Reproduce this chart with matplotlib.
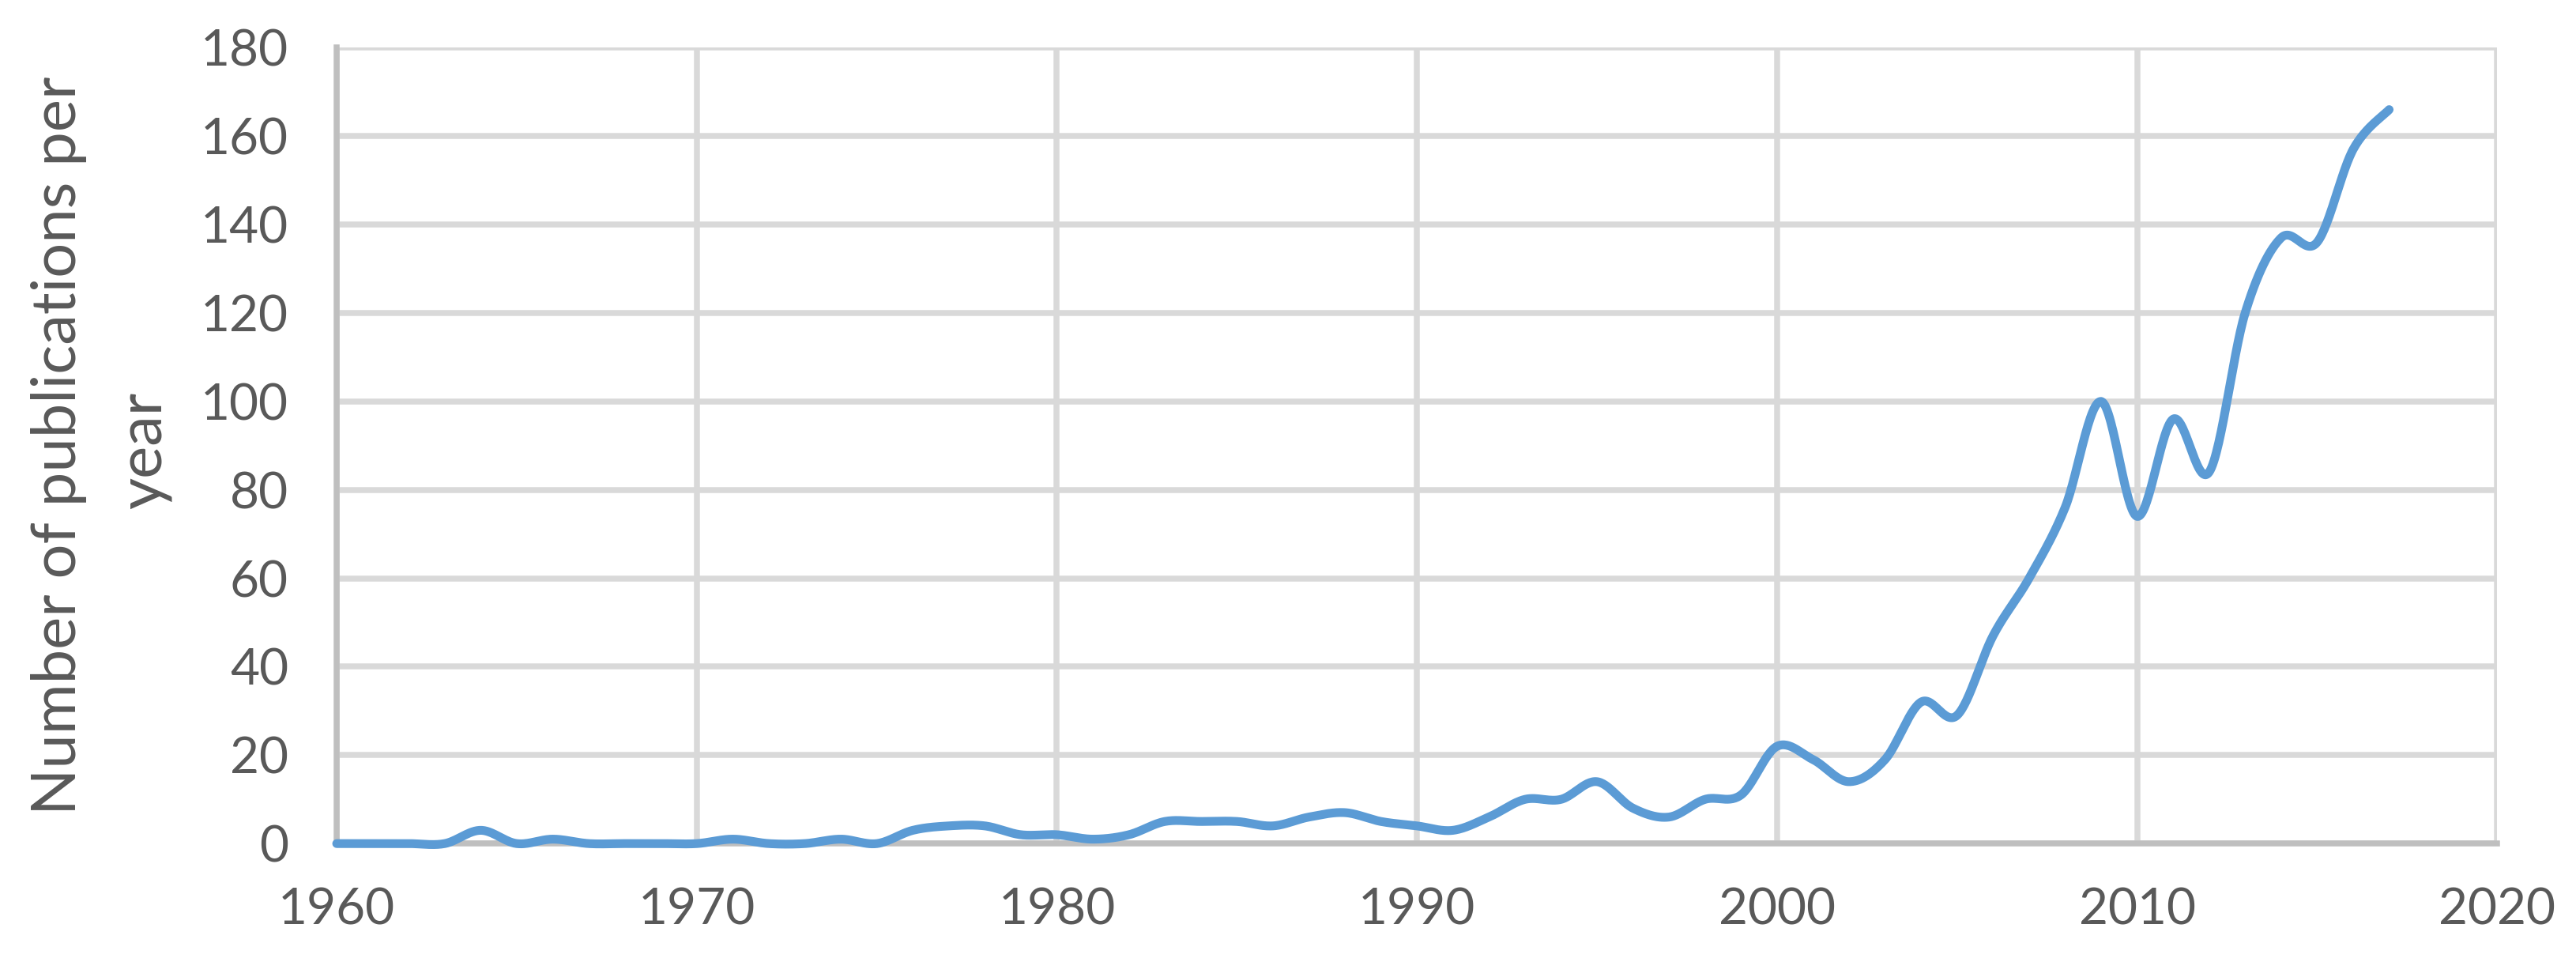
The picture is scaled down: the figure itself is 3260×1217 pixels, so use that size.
import numpy as np
import matplotlib
matplotlib.use("Agg")
import matplotlib.pyplot as plt

plt.rcParams["font.family"] = ["Lato", "DejaVu Sans"]

years = list(range(1960, 2018))
publications = [
    0, 0, 0, 0, 3, 0, 1, 0, 0, 0,          # 1960-1969
    0, 1, 0, 0, 1, 0, 3, 4, 4, 2,          # 1970-1979
    2, 1, 2, 5, 5, 5, 4, 6, 7, 5,          # 1980-1989
    4, 3, 6, 10, 10, 14, 8, 6, 10, 11,     # 1990-1999
    22, 19, 14, 19, 32, 29, 47, 60, 76, 100,  # 2000-2009
    74, 96, 84, 120, 137, 136, 157, 166,   # 2010-2017
]

x_ticks = [1960, 1970, 1980, 1990, 2000, 2010, 2020]
y_ticks = list(range(0, 181, 20))
ylabel_lines = ["Number of publications per", "year"]

LINE = "#5B9BD5"
GRID = "#D9D9D9"
AXIS = "#BFBFBF"
TEXT = "#595959"


def smooth_line(x, y, steps=30):
    # Excel-like smoothed line: cubic bezier through every point
    x = np.asarray(x, dtype=float)
    y = np.asarray(y, dtype=float)
    n = len(x)
    xs, ys = [], []
    for i in range(n - 1):
        i0 = max(i - 1, 0)
        i3 = min(i + 2, n - 1)
        p0 = np.array([x[i0], y[i0]])
        p1 = np.array([x[i], y[i]])
        p2 = np.array([x[i + 1], y[i + 1]])
        p3 = np.array([x[i3], y[i3]])
        c1 = p1 + (p2 - p0) / 6.0
        c2 = p2 - (p3 - p1) / 6.0
        t = np.linspace(0, 1, steps, endpoint=(i == n - 2))[:, None]
        pts = ((1 - t) ** 3) * p1 + 3 * ((1 - t) ** 2) * t * c1 + 3 * (1 - t) * t ** 2 * c2 + t ** 3 * p2
        xs.append(pts[:, 0])
        ys.append(pts[:, 1])
    return np.concatenate(xs), np.concatenate(ys)


fig = plt.figure(figsize=(16.3, 6.085), dpi=200)
ax = fig.add_axes([0.1307, 0.1231, 0.9694 - 0.1307, 0.9504 - 0.1231])

sx, sy = smooth_line(years, publications)
ax.plot(sx, sy, color=LINE, linewidth=4.0, solid_capstyle="round", zorder=3, clip_on=False)

ax.set_xlim(1960, 2020)
ax.set_ylim(0, 180)
ax.set_xticks(x_ticks)
ax.set_yticks(y_ticks)
ax.grid(True, color=GRID, linewidth=2.7)
ax.set_axisbelow(True)

for side in ("top", "right"):
    ax.spines[side].set_visible(False)
for side in ("left", "bottom"):
    ax.spines[side].set_color(AXIS)
    ax.spines[side].set_linewidth(2.7)

ax.tick_params(axis="both", length=0, labelsize=23, colors=TEXT)
ax.tick_params(axis="y", pad=22)
ax.tick_params(axis="x", pad=20)

# wrapped axis title, one text per line as in the original
fig.text(0.0230, 0.537, ylabel_lines[0], rotation=90, ha="center", va="center",
         fontsize=28, color=TEXT)
fig.text(0.0563, 0.532, ylabel_lines[1], rotation=90, ha="center", va="center",
         fontsize=28, color=TEXT)

fig.savefig("out.png", dpi=200)
